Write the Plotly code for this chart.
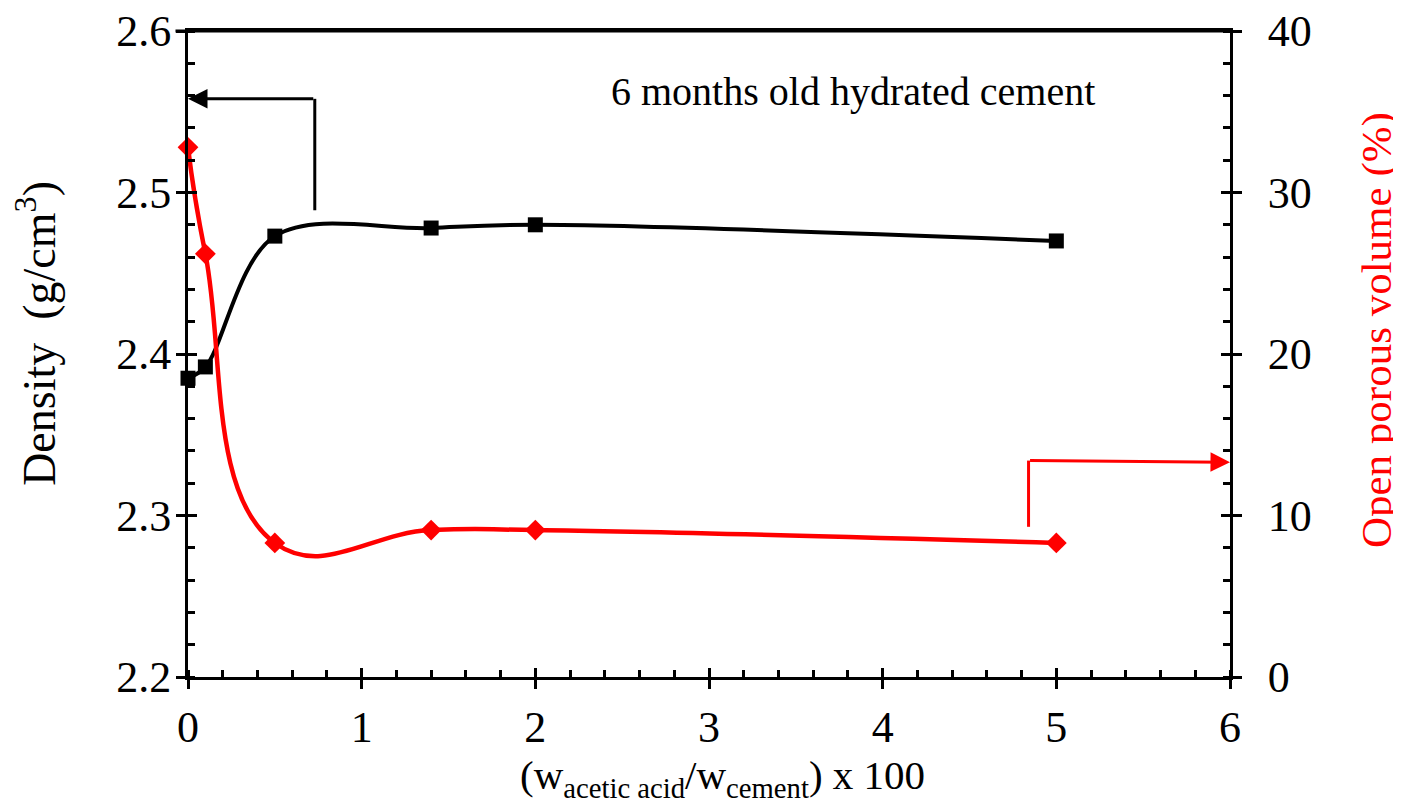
import plotly.graph_objects as go

# ---- data ----
ratio = [0, 0.1, 0.5, 1.4, 2, 5]
density = [2.385, 2.392, 2.473, 2.478, 2.480, 2.470]
porous = [32.8, 26.2, 8.3, 9.1, 9.1, 8.3]

x_ticks = [0, 1, 2, 3, 4, 5, 6]
y_ticks = [2.2, 2.3, 2.4, 2.5, 2.6]
y2_ticks = [0, 10, 20, 30, 40]

FONT = "Liberation Serif, Times New Roman, serif"
RED = "#FF0000"

fig = go.Figure()

fig.add_trace(go.Scatter(
    x=ratio, y=density, mode="lines+markers", yaxis="y",
    line=dict(color="black", width=4, shape="spline", smoothing=1.0),
    marker=dict(symbol="square", size=15, color="black"),
    cliponaxis=False, showlegend=False))

fig.add_trace(go.Scatter(
    x=ratio, y=porous, mode="lines+markers", yaxis="y2",
    line=dict(color=RED, width=4.5, shape="spline", smoothing=1.3),
    marker=dict(symbol="diamond", size=16, color=RED),
    cliponaxis=False, showlegend=False))

# dummy traces so that the overlay axes (inner half of crossing ticks) render
fig.add_trace(go.Scatter(x=[None], y=[None], xaxis="x2", yaxis="y3",
                         showlegend=False, hoverinfo="skip"))
fig.add_trace(go.Scatter(x=[None], y=[None], xaxis="x2", yaxis="y4",
                         showlegend=False, hoverinfo="skip"))

tickfont = dict(family=FONT, size=44, color="black")

fig.update_layout(
    width=1393, height=797,
    margin=dict(l=180, r=171, t=23, b=128, autoexpand=False),
    paper_bgcolor="white", plot_bgcolor="white",
    font=dict(family=FONT, color="black"),
    xaxis=dict(
        range=[0, 6], tickvals=x_ticks, ticks="outside", ticklen=9, tickwidth=3,
        tickcolor="black", showline=True, linecolor="black", linewidth=3,
        mirror=True, showgrid=False, zeroline=False, tickfont=tickfont,
        ticklabelstandoff=0, ticklabeloverflow="allow", automargin=False,
        minor=dict(dtick=0.2, ticks="inside", ticklen=7, tickwidth=3,
                   tickcolor="black", showgrid=False)),
    yaxis=dict(
        range=[2.2, 2.6], tickvals=y_ticks, tickformat=".1f", ticks="outside",
        ticklen=9, tickwidth=3, tickcolor="black", showline=True,
        linecolor="black", linewidth=3, showgrid=False, zeroline=False,
        tickfont=tickfont, ticklabelstandoff=-4, ticklabeloverflow="allow",
        automargin=False,
        minor=dict(dtick=0.02, ticks="inside", ticklen=7, tickwidth=3,
                   tickcolor="black", showgrid=False)),
    yaxis2=dict(
        range=[0, 40], tickvals=y2_ticks, overlaying="y", side="right",
        ticks="outside", ticklen=9, tickwidth=3, tickcolor="black",
        showline=True, linecolor="black", linewidth=3, showgrid=False,
        zeroline=False, tickfont=tickfont, ticklabelstandoff=17,
        ticklabeloverflow="allow", automargin=False,
        minor=dict(dtick=2, ticks="inside", ticklen=7, tickwidth=3,
                   tickcolor="black", showgrid=False)),
    xaxis2=dict(
        range=[0, 6], overlaying="x", tickvals=x_ticks, ticks="inside",
        ticklen=9, tickwidth=3, tickcolor="black", showticklabels=False,
        showline=False, showgrid=False, zeroline=False, automargin=False),
    yaxis3=dict(
        range=[2.2, 2.6], overlaying="y", tickvals=y_ticks, ticks="inside",
        ticklen=9, tickwidth=3, tickcolor="black", showticklabels=False,
        showline=False, showgrid=False, zeroline=False, automargin=False),
    yaxis4=dict(
        range=[0, 40], overlaying="y", side="right", tickvals=y2_ticks,
        ticks="inside", ticklen=9, tickwidth=3, tickcolor="black",
        showticklabels=False, showline=False, showgrid=False, zeroline=False,
        automargin=False),
)

# top frame line
fig.add_shape(type="line", xref="paper", yref="paper", x0=-0.012, x1=1.0,
              y0=1, y1=1, line=dict(color="black", width=3))

# black arrow pointing to the left (density) axis
fig.add_shape(type="line", xref="x", yref="y", x0=0.73, x1=0.73,
              y0=2.489, y1=2.558, line=dict(color="black", width=3))
fig.add_annotation(x=0.0, y=2.558, xref="x", yref="y", ax=0.73, ay=2.558,
                   axref="x", ayref="y", text="", showarrow=True,
                   arrowhead=2, arrowsize=1.3, arrowwidth=3, arrowcolor="black")

# red arrow pointing to the right (porous volume) axis
fig.add_shape(type="line", xref="x", yref="y2", x0=4.84, x1=4.84,
              y0=9.3, y1=13.4, line=dict(color=RED, width=3))
fig.add_annotation(x=6.0, y=13.3, xref="x", yref="y2", ax=4.84, ay=13.4,
                   axref="x", ayref="y2", text="", showarrow=True,
                   arrowhead=2, arrowsize=1.3, arrowwidth=3, arrowcolor=RED)

# text labels
fig.add_annotation(x=0.638, y=0.906, xref="paper", yref="paper",
                   text="6 months old hydrated cement", showarrow=False,
                   font=dict(family=FONT, size=40, color="black"),
                   xanchor="center", yanchor="middle")

fig.add_annotation(x=0.5125, y=-0.157, xref="paper", yref="paper",
                   text="(w<sub>acetic acid</sub>/w<sub>cement</sub>) x 100",
                   showarrow=False, font=dict(family=FONT, size=41, color="black"),
                   xanchor="center", yanchor="middle")

fig.add_annotation(x=-0.146, y=0.5325, xref="paper", yref="paper",
                   text="Density\u00a0\u00a0(g/cm<sup>3</sup>)", textangle=-90,
                   showarrow=False, font=dict(family=FONT, size=46, color="black"),
                   xanchor="center", yanchor="middle")

fig.add_annotation(x=1.141, y=0.537, xref="paper", yref="paper",
                   text="Open porous volume (%)", textangle=-90,
                   showarrow=False, font=dict(family=FONT, size=43, color=RED),
                   xanchor="center", yanchor="middle")

fig.write_html("out.html")
